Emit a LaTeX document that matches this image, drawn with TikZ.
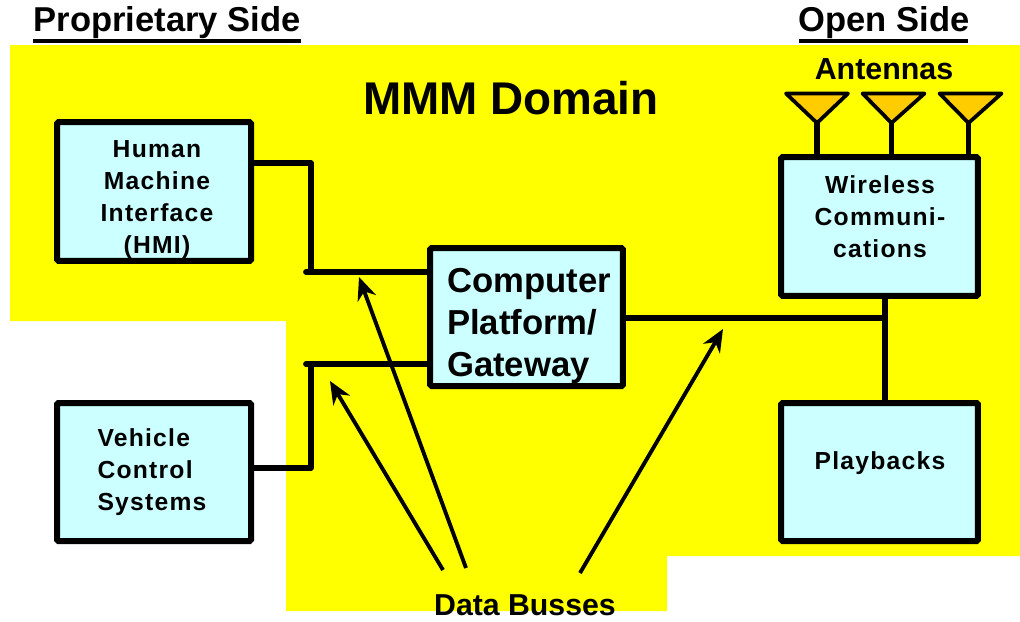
\documentclass[tikz,border=0pt]{standalone}
\usepackage{fontspec}
\setmainfont{Liberation Sans}
\newfontfamily\spaced[LetterSpace=5]{Liberation Sans}
\usetikzlibrary{arrows.meta,shapes.geometric}
\definecolor{bgy}{RGB}{255,255,0}
\definecolor{boxc}{RGB}{204,255,255}
\definecolor{antc}{RGB}{255,204,0}
\tikzset{
  px/.style={x=0.75pt,y=-0.75pt},
  boxnode/.style={draw=black,fill=boxc,line width=4.5pt,rounded corners=1pt,inner sep=0pt},
  boxtext/.style={font=\spaced\bfseries\fontsize{18.5}{24}\selectfont,inner sep=0pt},
  bus/.style={draw=black,line width=4.3pt,line cap=round,line join=round},
  pointer/.style={draw=black,line width=2.9pt,-{Stealth[length=17pt,width=14.5pt,inset=5.5pt]}},
  heading/.style={inner sep=0pt},
  rulestyle/.style={draw=black,line width=3pt},
  antenna/.style={draw=black,fill=antc,line width=2.8pt,line join=round},
}
\begin{document}
\begin{tikzpicture}[px]
\useasboundingbox (0,0) rectangle (1020,621);
\fill[bgy] (10,45) -- (1020,45) -- (1020,556) -- (667,556) -- (667,611) -- (286,611) -- (286,321) -- (10,321) -- cycle;

\node[boxnode,minimum width=145.5pt,minimum height=104pt] (hmi) at (154,191.5) {};
\node[boxnode,minimum width=145.5pt,minimum height=103.5pt] (vcs) at (154,472) {};
\node[boxnode,minimum width=144.5pt,minimum height=103.5pt] (gw) at (526.5,317) {};
\node[boxnode,minimum width=147.5pt,minimum height=104pt] (wc) at (879.5,226.5) {};
\node[boxnode,minimum width=147.5pt,minimum height=103.5pt] (pb) at (879.5,472) {};

\node[boxtext,align=center] (hmit) at (157,199.5) {Human\\Machine\\Interface\\(HMI)};
\node[boxtext,align=left] (vcst) at (152,472) {Vehicle\\Control\\Systems};
\node[font=\bfseries\fontsize{26}{31.5}\selectfont,align=left,inner sep=0pt] (gwt) at (529,326) {Computer\\Platform/\\Gateway};
\node[boxtext,align=center] (wct) at (880,217) {Wireless\\Communi-\\cations};
\node[boxtext] (pbt) at (880,463.5) {Playbacks};

\node[heading,font=\bfseries\fontsize{25.9}{28}\selectfont] (prop) at (167,23) {Proprietary Side};
\node[heading,font=\bfseries\fontsize{25.9}{28}\selectfont] (open) at (884,23) {Open Side};
\node[heading,font=\bfseries\fontsize{34.4}{36}\selectfont] (dom) at (511,98) {MMM Domain};
\node[heading,font=\bfseries\fontsize{22.8}{26}\selectfont] (ant) at (884,69) {Antennas};
\node[heading,font=\bfseries\fontsize{22.7}{26}\selectfont] (db) at (525,605.5) {Data Busses};

\coordinate (pl) at (33,41); \coordinate (pr) at (301,41);
\coordinate (ol) at (799,41); \coordinate (or) at (968,41);
\draw[rulestyle] (pl) -- (pr);
\draw[rulestyle] (ol) -- (or);

\coordinate (j1) at (311,272);
\coordinate (j1s) at (306,272);
\coordinate (j2) at (311,364);
\coordinate (j2s) at (306,364);
\coordinate (j3) at (885,318);
\coordinate (a1) at (359,277);
\coordinate (a2) at (330,381);
\coordinate (a3) at (723,329);
\coordinate (s1) at (466,568);
\coordinate (s2) at (443,570);
\coordinate (s3) at (580,573);

\draw[bus] (hmi.east |- 0,163) -- (311,163) -- (j1);
\draw[bus] (j1s) -- (gw.west |- j1s);
\draw[bus] (vcs.east |- 0,468) -- (311,468) -- (j2);
\draw[bus] (j2s) -- (gw.west |- j2s);
\draw[bus] (gw.east |- j3) -- (j3);
\draw[bus] (wc.south -| j3) -- (pb.north -| j3);

\draw[pointer] (s1) -- (a1);
\draw[pointer] (s2) -- (a2);
\draw[pointer] (s3) -- (a3);

\foreach \n/\x/\c in {a/817/817,b/891.5/893.5,c/968.5/970.5}{
  \coordinate (\n top) at (\x,157);
  \coordinate (\n tip) at (\x,123);
  \draw[bus,line cap=butt] (\n top) -- (\n tip);
  \draw[antenna] (\c-31,93.5) -- (\c+31,93.5) -- (\n tip) -- cycle;
}
\end{tikzpicture}
\end{document}
